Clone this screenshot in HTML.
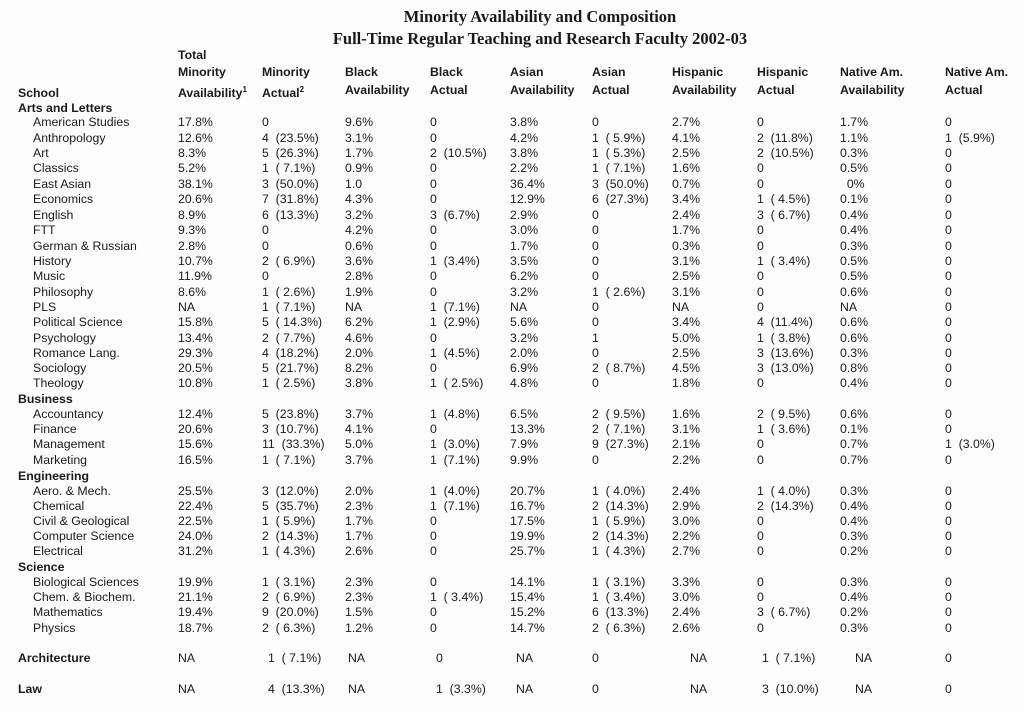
<!DOCTYPE html>
<html><head><meta charset="utf-8">
<style>
body{margin:0;background:#fff;}
#page{position:relative;width:1024px;height:711px;overflow:hidden;background:#fdfdfd;font-family:"Liberation Sans",Arial,sans-serif;color:#1a1a1a;}
.t{position:absolute;font-size:12.3px;white-space:pre;line-height:14px;}
.h{font-weight:bold;}
.title{position:absolute;left:0;width:1080px;text-align:center;font-family:"Liberation Serif",serif;font-weight:bold;font-size:16.5px;}
sup{font-size:8px;}
</style></head><body>
<div id="page">
<div class="title" style="top:7px">Minority Availability and Composition</div>
<div class="title" style="top:29px">Full-Time Regular Teaching and Research Faculty 2002-03</div>
</div>
<script>
const colX=[178,262,345,430,510,592,672,757,840,945];
const headers=[["Total","Minority","Availability<sup>1</sup>"],["","Minority","Actual<sup>2</sup>"],["","Black","Availability"],["","Black","Actual"],["","Asian","Availability"],["","Asian","Actual"],["","Hispanic","Availability"],["","Hispanic","Actual"],["","Native Am.","Availability"],["","Native Am.","Actual"]];
const groups=[
["Arts and Letters",108],["Business",399],["Engineering",476],["Science",567]];
const rows=[
["American Studies",122,["17.8%","0","9.6%","0","3.8%","0","2.7%","0","1.7%","0"]],
["Anthropology",138,["12.6%","4  (23.5%)","3.1%","0","4.2%","1  ( 5.9%)","4.1%","2  (11.8%)","1.1%","1  (5.9%)"]],
["Art",153,["8.3%","5  (26.3%)","1.7%","2  (10.5%)","3.8%","1  ( 5.3%)","2.5%","2  (10.5%)","0.3%","0"]],
["Classics",168,["5.2%","1  ( 7.1%)","0.9%","0","2.2%","1  ( 7.1%)","1.6%","0","0.5%","0"]],
["East Asian",184,["38.1%","3  (50.0%)","1.0","0","36.4%","3  (50.0%)","0.7%","0","  0%","0"]],
["Economics",199,["20.6%","7  (31.8%)","4.3%","0","12.9%","6  (27.3%)","3.4%","1  ( 4.5%)","0.1%","0"]],
["English",215,["8.9%","6  (13.3%)","3.2%","3  (6.7%)","2.9%","0","2.4%","3  ( 6.7%)","0.4%","0"]],
["FTT",230,["9.3%","0","4.2%","0","3.0%","0","1.7%","0","0.4%","0"]],
["German & Russian",246,["2.8%","0","0.6%","0","1.7%","0","0.3%","0","0.3%","0"]],
["History",261,["10.7%","2  ( 6.9%)","3.6%","1  (3.4%)","3.5%","0","3.1%","1  ( 3.4%)","0.5%","0"]],
["Music",276,["11.9%","0","2.8%","0","6.2%","0","2.5%","0","0.5%","0"]],
["Philosophy",292,["8.6%","1  ( 2.6%)","1.9%","0","3.2%","1  ( 2.6%)","3.1%","0","0.6%","0"]],
["PLS",307,["NA","1  ( 7.1%)","NA","1  (7.1%)","NA","0","NA","0","NA","0"]],
["Political Science",322,["15.8%","5  ( 14.3%)","6.2%","1  (2.9%)","5.6%","0","3.4%","4  (11.4%)","0.6%","0"]],
["Psychology",338,["13.4%","2  ( 7.7%)","4.6%","0","3.2%","1","5.0%","1  ( 3.8%)","0.6%","0"]],
["Romance Lang.",353,["29.3%","4  (18.2%)","2.0%","1  (4.5%)","2.0%","0","2.5%","3  (13.6%)","0.3%","0"]],
["Sociology",368,["20.5%","5  (21.7%)","8.2%","0","6.9%","2  ( 8.7%)","4.5%","3  (13.0%)","0.8%","0"]],
["Theology",383,["10.8%","1  ( 2.5%)","3.8%","1  ( 2.5%)","4.8%","0","1.8%","0","0.4%","0"]],
["Accountancy",414,["12.4%","5  (23.8%)","3.7%","1  (4.8%)","6.5%","2  ( 9.5%)","1.6%","2  ( 9.5%)","0.6%","0"]],
["Finance",429,["20.6%","3  (10.7%)","4.1%","0","13.3%","2  ( 7.1%)","3.1%","1  ( 3.6%)","0.1%","0"]],
["Management",444,["15.6%","11  (33.3%)","5.0%","1  (3.0%)","7.9%","9  (27.3%)","2.1%","0","0.7%","1  (3.0%)"]],
["Marketing",460,["16.5%","1  ( 7.1%)","3.7%","1  (7.1%)","9.9%","0","2.2%","0","0.7%","0"]],
["Aero. & Mech.",491,["25.5%","3  (12.0%)","2.0%","1  (4.0%)","20.7%","1  ( 4.0%)","2.4%","1  ( 4.0%)","0.3%","0"]],
["Chemical",506,["22.4%","5  (35.7%)","2.3%","1  (7.1%)","16.7%","2  (14.3%)","2.9%","2  (14.3%)","0.4%","0"]],
["Civil & Geological",521,["22.5%","1  ( 5.9%)","1.7%","0","17.5%","1  ( 5.9%)","3.0%","0","0.4%","0"]],
["Computer Science",536,["24.0%","2  (14.3%)","1.7%","0","19.9%","2  (14.3%)","2.2%","0","0.3%","0"]],
["Electrical",551,["31.2%","1  ( 4.3%)","2.6%","0","25.7%","1  ( 4.3%)","2.7%","0","0.2%","0"]],
["Biological Sciences",582,["19.9%","1  ( 3.1%)","2.3%","0","14.1%","1  ( 3.1%)","3.3%","0","0.3%","0"]],
["Chem. & Biochem.",597,["21.1%","2  ( 6.9%)","2.3%","1  ( 3.4%)","15.4%","1  ( 3.4%)","3.0%","0","0.4%","0"]],
["Mathematics",612,["19.4%","9  (20.0%)","1.5%","0","15.2%","6  (13.3%)","2.4%","3  ( 6.7%)","0.2%","0"]],
["Physics",628,["18.7%","2  ( 6.3%)","1.2%","0","14.7%","2  ( 6.3%)","2.6%","0","0.3%","0"]]];
const solo=[
["Architecture",658,["NA","1  ( 7.1%)","NA","0","NA","0","NA","1  ( 7.1%)","NA","0"]],
["Law",689,["NA","4  (13.3%)","NA","1  (3.3%)","NA","0","NA","3  (10.0%)","NA","0"]]];
const page=document.getElementById('page');
function put(txt,x,y,cls,name){
  const d=document.createElement('div');
  d.className='t '+(cls||'');
  d.style.left=x+'px';d.style.top=(y-7)+'px';
  d.innerHTML=txt;
  
  
  page.appendChild(d);
}
put('School',18,93,'h','school-header');
headers.forEach((h,i)=>{
  const ys=[55,72,90];
  h.forEach((s,j)=>{ if(s) put(s,colX[i],ys[j],'h','column-header'); });
});
groups.forEach(g=>put(g[0],18,g[1],'h','group-label'));
rows.forEach(r=>{
  put(r[0],33,r[1],'','school-name');
  r[2].forEach((v,i)=>put(v,colX[i],r[1],'','table-cell'));
});
const soloX=[178,268,348,436,516,592,690,762,855,945];
solo.forEach(r=>{
  put(r[0],18,r[1],'h','school-name');
  r[2].forEach((v,i)=>put(v,soloX[i],r[1],'','table-cell'));
});
</script>
</body></html>
